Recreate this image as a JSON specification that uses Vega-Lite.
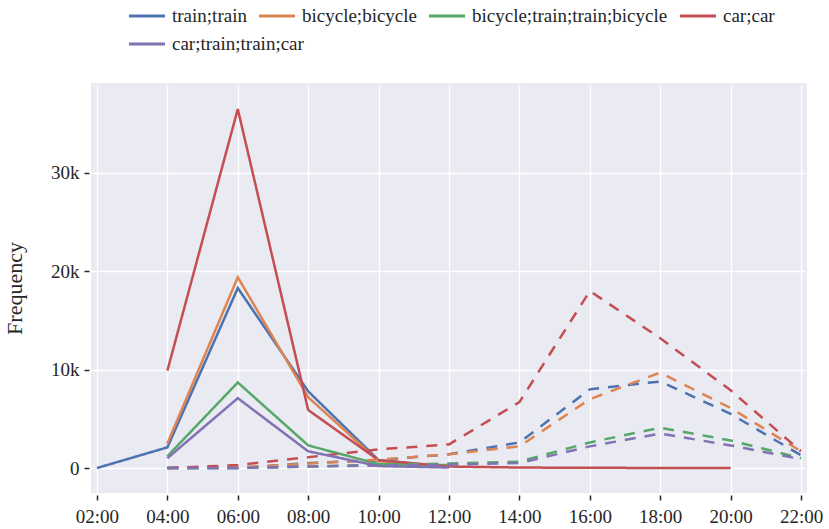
{
  "$schema": "https://vega.github.io/schema/vega-lite/v6.json",
  "width": 716,
  "height": 410,
  "autosize": {"type": "none"},
  "padding": {"left": 91, "top": 83, "right": 22, "bottom": 36},
  "background": "white",
  "config": {
    "font": "Liberation Serif",
    "view": {"fill": "#eaeaf2", "stroke": null},
    "legend": {"labelFont": "Liberation Serif", "labelFontSize": 19, "labelColor": "#262626"},
    "axis": {
      "grid": true, "gridColor": "white", "gridWidth": 1.3,
      "domain": false, "ticks": true, "tickColor": "#262626", "tickSize": 5, "tickWidth": 1.5,
      "offset": 2, "labelFont": "Liberation Serif", "labelFontSize": 19, "labelColor": "#262626",
      "titleFont": "Liberation Serif", "titleFontWeight": "normal", "titleColor": "#262626"
    }
  },
  "data": {"values": [
    {"mode": "train;train", "dir": "out", "t": 2, "v": 0},
    {"mode": "train;train", "dir": "out", "t": 4, "v": 2100},
    {"mode": "train;train", "dir": "out", "t": 6, "v": 18300},
    {"mode": "train;train", "dir": "out", "t": 8, "v": 7800},
    {"mode": "train;train", "dir": "out", "t": 10, "v": 800},
    {"mode": "train;train", "dir": "out", "t": 12, "v": 100},
    {"mode": "bicycle;bicycle", "dir": "out", "t": 4, "v": 2500},
    {"mode": "bicycle;bicycle", "dir": "out", "t": 6, "v": 19400},
    {"mode": "bicycle;bicycle", "dir": "out", "t": 8, "v": 7200},
    {"mode": "bicycle;bicycle", "dir": "out", "t": 10, "v": 700},
    {"mode": "bicycle;bicycle", "dir": "out", "t": 12, "v": 150},
    {"mode": "bicycle;train;train;bicycle", "dir": "out", "t": 4, "v": 1200},
    {"mode": "bicycle;train;train;bicycle", "dir": "out", "t": 6, "v": 8700},
    {"mode": "bicycle;train;train;bicycle", "dir": "out", "t": 8, "v": 2300},
    {"mode": "bicycle;train;train;bicycle", "dir": "out", "t": 10, "v": 400},
    {"mode": "bicycle;train;train;bicycle", "dir": "out", "t": 12, "v": 300},
    {"mode": "car;car", "dir": "out", "t": 4, "v": 9900},
    {"mode": "car;car", "dir": "out", "t": 6, "v": 36500},
    {"mode": "car;car", "dir": "out", "t": 8, "v": 5900},
    {"mode": "car;car", "dir": "out", "t": 10, "v": 800},
    {"mode": "car;car", "dir": "out", "t": 12, "v": 150},
    {"mode": "car;car", "dir": "out", "t": 14, "v": 50},
    {"mode": "car;car", "dir": "out", "t": 16, "v": 20},
    {"mode": "car;car", "dir": "out", "t": 18, "v": 10},
    {"mode": "car;car", "dir": "out", "t": 20, "v": 0},
    {"mode": "car;train;train;car", "dir": "out", "t": 4, "v": 1000},
    {"mode": "car;train;train;car", "dir": "out", "t": 6, "v": 7100},
    {"mode": "car;train;train;car", "dir": "out", "t": 8, "v": 1700},
    {"mode": "car;train;train;car", "dir": "out", "t": 10, "v": 200},
    {"mode": "car;train;train;car", "dir": "out", "t": 12, "v": 50},
    {"mode": "train;train", "dir": "ret", "t": 4, "v": 0},
    {"mode": "train;train", "dir": "ret", "t": 6, "v": 0},
    {"mode": "train;train", "dir": "ret", "t": 8, "v": 500},
    {"mode": "train;train", "dir": "ret", "t": 10, "v": 800},
    {"mode": "train;train", "dir": "ret", "t": 12, "v": 1400},
    {"mode": "train;train", "dir": "ret", "t": 14, "v": 2600},
    {"mode": "train;train", "dir": "ret", "t": 16, "v": 8000},
    {"mode": "train;train", "dir": "ret", "t": 18, "v": 8800},
    {"mode": "train;train", "dir": "ret", "t": 20, "v": 5500},
    {"mode": "train;train", "dir": "ret", "t": 22, "v": 1300},
    {"mode": "bicycle;bicycle", "dir": "ret", "t": 4, "v": 0},
    {"mode": "bicycle;bicycle", "dir": "ret", "t": 6, "v": 50},
    {"mode": "bicycle;bicycle", "dir": "ret", "t": 8, "v": 450},
    {"mode": "bicycle;bicycle", "dir": "ret", "t": 10, "v": 850},
    {"mode": "bicycle;bicycle", "dir": "ret", "t": 12, "v": 1400},
    {"mode": "bicycle;bicycle", "dir": "ret", "t": 14, "v": 2200},
    {"mode": "bicycle;bicycle", "dir": "ret", "t": 16, "v": 7000},
    {"mode": "bicycle;bicycle", "dir": "ret", "t": 18, "v": 9700},
    {"mode": "bicycle;bicycle", "dir": "ret", "t": 20, "v": 6100},
    {"mode": "bicycle;bicycle", "dir": "ret", "t": 22, "v": 1700},
    {"mode": "bicycle;train;train;bicycle", "dir": "ret", "t": 4, "v": 0},
    {"mode": "bicycle;train;train;bicycle", "dir": "ret", "t": 6, "v": 0},
    {"mode": "bicycle;train;train;bicycle", "dir": "ret", "t": 8, "v": 150},
    {"mode": "bicycle;train;train;bicycle", "dir": "ret", "t": 10, "v": 350},
    {"mode": "bicycle;train;train;bicycle", "dir": "ret", "t": 12, "v": 450},
    {"mode": "bicycle;train;train;bicycle", "dir": "ret", "t": 14, "v": 650},
    {"mode": "bicycle;train;train;bicycle", "dir": "ret", "t": 16, "v": 2600},
    {"mode": "bicycle;train;train;bicycle", "dir": "ret", "t": 18, "v": 4100},
    {"mode": "bicycle;train;train;bicycle", "dir": "ret", "t": 20, "v": 2800},
    {"mode": "bicycle;train;train;bicycle", "dir": "ret", "t": 22, "v": 1000},
    {"mode": "car;car", "dir": "ret", "t": 4, "v": 0},
    {"mode": "car;car", "dir": "ret", "t": 6, "v": 300},
    {"mode": "car;car", "dir": "ret", "t": 8, "v": 1100},
    {"mode": "car;car", "dir": "ret", "t": 10, "v": 1900},
    {"mode": "car;car", "dir": "ret", "t": 12, "v": 2400},
    {"mode": "car;car", "dir": "ret", "t": 14, "v": 6700},
    {"mode": "car;car", "dir": "ret", "t": 16, "v": 18000},
    {"mode": "car;car", "dir": "ret", "t": 18, "v": 13200},
    {"mode": "car;car", "dir": "ret", "t": 20, "v": 7900},
    {"mode": "car;car", "dir": "ret", "t": 22, "v": 1700},
    {"mode": "car;train;train;car", "dir": "ret", "t": 4, "v": 0},
    {"mode": "car;train;train;car", "dir": "ret", "t": 6, "v": 0},
    {"mode": "car;train;train;car", "dir": "ret", "t": 8, "v": 150},
    {"mode": "car;train;train;car", "dir": "ret", "t": 10, "v": 250},
    {"mode": "car;train;train;car", "dir": "ret", "t": 12, "v": 350},
    {"mode": "car;train;train;car", "dir": "ret", "t": 14, "v": 500},
    {"mode": "car;train;train;car", "dir": "ret", "t": 16, "v": 2200},
    {"mode": "car;train;train;car", "dir": "ret", "t": 18, "v": 3500},
    {"mode": "car;train;train;car", "dir": "ret", "t": 20, "v": 2300},
    {"mode": "car;train;train;car", "dir": "ret", "t": 22, "v": 900}
  ]},
  "encoding": {
    "x": {
      "field": "t", "type": "quantitative",
      "scale": {"domain": [1.83, 22.17], "nice": false, "zero": false},
      "axis": {
        "values": [2, 4, 6, 8, 10, 12, 14, 16, 18, 20, 22],
        "labelExpr": "(datum.value < 10 ? '0' : '') + datum.value + ':00'",
        "labelPadding": 7, "title": null
      }
    },
    "y": {
      "field": "v", "type": "quantitative",
      "scale": {"domain": [-2540, 39150], "nice": false, "zero": false},
      "axis": {
        "values": [0, 10000, 20000, 30000],
        "labelExpr": "datum.value == 0 ? '0' : (datum.value / 1000) + 'k'",
        "labelPadding": 5, "title": "Frequency", "titleFontSize": 22, "titlePadding": 24
      }
    },
    "strokeDash": {
      "field": "dir", "type": "nominal",
      "scale": {"domain": ["out", "ret"], "range": [[1, 0], [11, 9]]},
      "legend": null
    },
    "detail": {"field": "dir"}
  },
  "layer": [
    {
      "transform": [{"filter": "datum.mode != 'car;train;train;car'"}],
      "mark": {"type": "line", "strokeWidth": 2.5, "clip": true},
      "encoding": {
        "color": {
          "field": "mode", "type": "nominal",
          "scale": {
            "domain": ["train;train", "bicycle;bicycle", "bicycle;train;train;bicycle", "car;car"],
            "range": ["#4c72b0", "#dd8452", "#55a868", "#c44e52"]
          },
          "legend": {
            "orient": "none", "legendX": 36, "legendY": -87, "columns": 4, "direction": "horizontal",
            "title": null, "symbolType": "stroke", "symbolSize": 1300, "symbolStrokeWidth": 3,
            "labelFont": "Liberation Serif", "labelFontSize": 19, "labelColor": "#262626", "labelLimit": 400,
            "labelOffset": 5, "columnPadding": 5
          }
        }
      }
    },
    {
      "transform": [{"filter": "datum.mode == 'car;train;train;car'"}],
      "mark": {"type": "line", "strokeWidth": 2.5, "clip": true},
      "encoding": {
        "stroke": {
          "field": "mode", "type": "nominal",
          "scale": {"domain": ["car;train;train;car"], "range": ["#8172b3"]},
          "legend": {
            "orient": "none", "legendX": 36, "legendY": -59, "direction": "horizontal",
            "title": null, "symbolType": "stroke", "symbolSize": 1300, "symbolStrokeWidth": 3,
            "labelFont": "Liberation Serif", "labelFontSize": 19, "labelColor": "#262626", "labelLimit": 400,
            "labelOffset": 5
          }
        }
      }
    }
  ]
}
